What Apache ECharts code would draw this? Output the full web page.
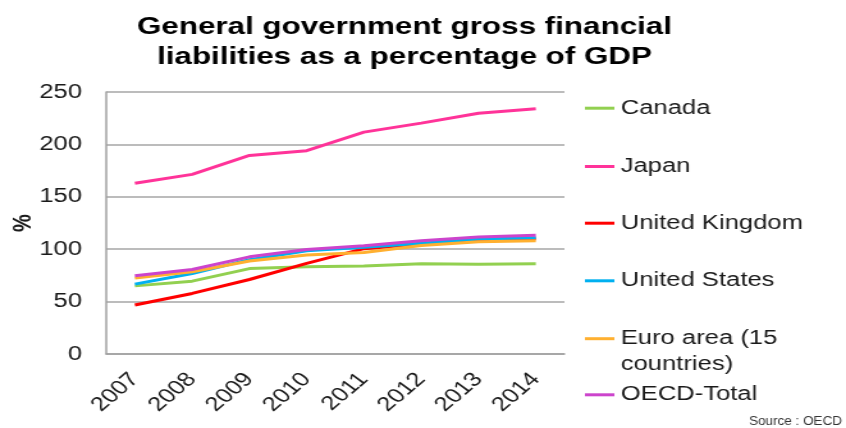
<!DOCTYPE html>
<html>
<head>
<meta charset="utf-8">
<script src="https://cdn.jsdelivr.net/npm/echarts@6/dist/echarts.min.js"></script>
<style>
  html, body { margin: 0; padding: 0; background: #ffffff; overflow: hidden; }
  /* the chart is laid out narrow and widened horizontally as a whole */
  #chart { width: 661px; height: 428px; transform: scaleX(1.2799); transform-origin: 0 0; }
</style>
</head>
<body>
<div id="chart"></div>
<script>
// Gross financial liabilities, % of GDP (OECD)
const years = ['2007', '2008', '2009', '2010', '2011', '2012', '2013', '2014'];
const yTicks = [0, 50, 100, 150, 200, 250];

const canada = [65, 69.5, 81.5, 83.3, 84, 86, 85.6, 86];
const japan = [163, 171.4, 189.5, 194, 211.7, 220.3, 229.8, 234];
const unitedKingdom = [46.7, 57.8, 71.1, 86.5, 100.5, 105, 109, 110];
const unitedStates = [66.7, 76.8, 90, 98.5, 101.8, 105.6, 109.8, 110.9];
const euroArea = [72.4, 78.5, 88.8, 94.5, 96.8, 103.5, 107, 108];
const oecdTotal = [74.6, 80.6, 92.7, 99.7, 103.4, 108, 111.6, 113.2];

const seriesNames = ['Canada', 'Japan', 'United Kingdom', 'United States', 'Euro area (15 countries)', 'OECD-Total'];
const seriesValues = [canada, japan, unitedKingdom, unitedStates, euroArea, oecdTotal];
const seriesColors = ['#92d050', '#ff3399', '#ff0000', '#00b0f0', '#ffb030', '#cc44cc'];

const STRETCH = 1.2799;
const FONT = '"Liberation Sans", Arial, sans-serif';
const TEXT = '#1a1a1a';

// legend entry labels; the Euro area label wraps, with its first line level with the key
const legendLabels = {
  'Euro area (15 countries)': '\nEuro area (15\ncountries)'
};

// one legend block per series so each entry sits on its own row
const legendRows = [106.7, 165, 221.7, 279.3, 336.7, 393.3];
const legends = seriesNames.map((name, i) => {
  const wrapped = legendLabels[name] !== undefined;
  return {
    orient: 'vertical',
    left: 457,
    top: legendRows[i] - (wrapped ? 37 : 11.5),
    padding: 0,
    icon: 'rect',
    itemWidth: 23,
    itemHeight: 3,
    selectedMode: false,
    data: [name],
    formatter: n => legendLabels[n] !== undefined ? legendLabels[n] : n,
    textStyle: {
      fontFamily: FONT,
      fontSize: 20,
      lineHeight: 26,
      color: TEXT
    }
  };
});

const option = {
  backgroundColor: '#ffffff',
  animation: false,
  title: {
    text: 'General government gross financial\nliabilities as a percentage of GDP',
    left: 316,
    textAlign: 'center',
    top: 12,
    padding: 0,
    textStyle: {
      fontFamily: FONT,
      fontSize: 24.5,
      fontWeight: 'bold',
      lineHeight: 30,
      color: '#000000'
    }
  },
  legend: legends,
  grid: { left: 83, right: 220, top: 92, bottom: 74, containLabel: false, outerBoundsMode: 'none' },
  xAxis: {
    type: 'category',
    data: years,
    boundaryGap: true,
    axisLine: { show: true, lineStyle: { color: '#a0a0a0', width: 1.5 } },
    axisTick: { show: false },
    axisLabel: {
      rotate: 47,
      margin: 22,
      fontFamily: FONT,
      fontSize: 20,
      color: TEXT
    }
  },
  yAxis: {
    type: 'value',
    min: yTicks[0],
    max: yTicks[yTicks.length - 1],
    interval: yTicks[1] - yTicks[0],
    name: '%',
    nameLocation: 'middle',
    nameRotate: 90,
    nameGap: 55,
    nameMoveOverlap: false,
    nameTextStyle: { fontFamily: FONT, fontSize: 20, fontWeight: 'bold', color: TEXT },
    axisLine: { show: true, lineStyle: { color: '#a0a0a0', width: 1.5 } },
    axisTick: { show: false },
    splitLine: { show: true, lineStyle: { color: '#a6a6a6', width: 1.5 } },
    axisLabel: {
      margin: 19,
      fontFamily: FONT,
      fontSize: 20,
      color: TEXT
    }
  },
  graphic: [{
    // source note keeps its natural proportions
    type: 'text',
    x: 842 / STRETCH,
    y: 421,
    scaleX: 1 / STRETCH,
    style: {
      text: 'Source : OECD',
      x: 0,
      y: 0,
      align: 'right',
      verticalAlign: 'middle',
      fontFamily: FONT,
      fontSize: 13.5,
      fill: '#333333'
    }
  }],
  series: seriesNames.map((name, i) => ({
    name: name,
    type: 'line',
    data: seriesValues[i],
    color: seriesColors[i],
    showSymbol: false,
    symbol: 'none',
    lineStyle: { width: 3, color: seriesColors[i] },
    emphasis: { disabled: true }
  }))
};

const chart = echarts.init(document.getElementById('chart'), null, { renderer: 'canvas' });
chart.setOption(option);
</script>
</body>
</html>
